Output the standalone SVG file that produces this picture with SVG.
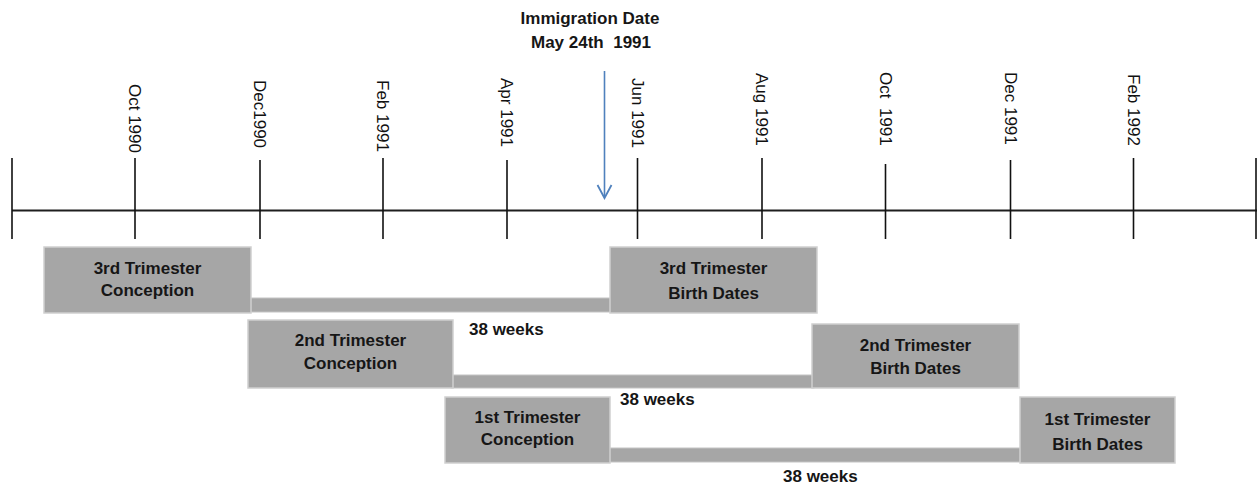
<svg xmlns="http://www.w3.org/2000/svg" width="1257" height="489" viewBox="0 0 1257 489">
<style>
.axis{stroke:#1e1e1e;stroke-width:2;fill:none}
.tick{stroke:#111;stroke-width:1.6;fill:none}
.lbl{font-family:"Liberation Sans",Arial,sans-serif;font-size:17px;fill:#111}
.box{fill:#a6a6a6;stroke:#cfcfcf;stroke-width:1.5}
.bar{fill:#a6a6a6;stroke:#c4c4c4;stroke-width:1}
.bt{font-family:"Liberation Sans",Arial,sans-serif;font-size:17px;font-weight:bold;fill:#161616;text-anchor:middle}
.wk{font-family:"Liberation Sans",Arial,sans-serif;font-size:17px;font-weight:bold;fill:#161616}
.imm{font-family:"Liberation Sans",Arial,sans-serif;font-size:17px;font-weight:bold;fill:#161616;text-anchor:middle}
</style>
<rect width="1257" height="489" fill="#ffffff"/>
<g id="timeline">
<line class="axis" x1="12" y1="210.5" x2="1257" y2="210.5"/>
<line class="tick" x1="12" y1="158" x2="12" y2="239"/>
<line class="tick" x1="135" y1="158" x2="135" y2="239"/>
<line class="tick" x1="260" y1="160" x2="260" y2="239"/>
<line class="tick" x1="383" y1="158" x2="383" y2="239"/>
<line class="tick" x1="507" y1="160" x2="507" y2="239"/>
<line class="tick" x1="637.5" y1="158" x2="637.5" y2="239"/>
<line class="tick" x1="762" y1="158" x2="762" y2="239"/>
<line class="tick" x1="885.5" y1="164" x2="885.5" y2="239"/>
<line class="tick" x1="1010.5" y1="160" x2="1010.5" y2="239"/>
<line class="tick" x1="1133.5" y1="158" x2="1133.5" y2="239"/>
<line class="tick" x1="1256" y1="158" x2="1256" y2="239"/>
<text class="lbl" transform="translate(129,84) rotate(90)">Oct 1990</text>
<text class="lbl" transform="translate(254,80) rotate(90)">Dec1990</text>
<text class="lbl" transform="translate(377,80) rotate(90)">Feb 1991</text>
<text class="lbl" transform="translate(501,78) rotate(90)">Apr 1991</text>
<text class="lbl" transform="translate(631.5,78) rotate(90)">Jun 1991</text>
<text class="lbl" transform="translate(756,73) rotate(90)">Aug 1991</text>
<text class="lbl" transform="translate(879.5,72) rotate(90)" xml:space="preserve">Oct  1991</text>
<text class="lbl" transform="translate(1004.5,72) rotate(90)">Dec 1991</text>
<text class="lbl" transform="translate(1127.5,74) rotate(90)">Feb 1992</text>
</g>
<g id="immigration">
<text class="imm" x="590" y="24">Immigration Date</text>
<text class="imm" x="591" y="48" xml:space="preserve">May 24th  1991</text>
<line x1="604.5" y1="71" x2="604.5" y2="197" stroke="#4f81bd" stroke-width="1.6"/>
<polyline points="597.5,185 604.5,198 611.5,185" fill="none" stroke="#4f81bd" stroke-width="1.8"/>
</g>
<g id="connectors">
<rect class="bar" x="249" y="298" width="363" height="14"/>
<rect class="bar" x="451" y="375" width="363" height="13"/>
<rect class="bar" x="608" y="448" width="423" height="14"/>
</g>
<g id="third-conception">
<rect class="box" x="44" y="247" width="207" height="66"/>
<text class="bt" x="147.5" y="274">3rd Trimester</text>
<text class="bt" x="147.5" y="296">Conception</text>
</g>
<g id="third-birth">
<rect class="box" x="610" y="247" width="207" height="66"/>
<text class="bt" x="713.5" y="274">3rd Trimester</text>
<text class="bt" x="713.5" y="299">Birth Dates</text>
</g>
<g id="second-conception">
<rect class="box" x="248" y="320" width="205" height="68"/>
<text class="bt" x="350.5" y="346">2nd Trimester</text>
<text class="bt" x="350.5" y="369">Conception</text>
</g>
<g id="second-birth">
<rect class="box" x="812" y="324" width="207" height="64"/>
<text class="bt" x="915.5" y="351">2nd Trimester</text>
<text class="bt" x="915.5" y="374">Birth Dates</text>
</g>
<g id="first-conception">
<rect class="box" x="445" y="397" width="165" height="66"/>
<text class="bt" x="527.5" y="423">1st Trimester</text>
<text class="bt" x="527.5" y="445">Conception</text>
</g>
<g id="first-birth">
<rect class="box" x="1020" y="397" width="155" height="66"/>
<text class="bt" x="1097.5" y="425">1st Trimester</text>
<text class="bt" x="1097.5" y="450">Birth Dates</text>
</g>
<g id="labels">
<text class="wk" x="469" y="335">38 weeks</text>
<text class="wk" x="620" y="405">38 weeks</text>
<text class="wk" x="783" y="482">38 weeks</text>
</g>
</svg>
